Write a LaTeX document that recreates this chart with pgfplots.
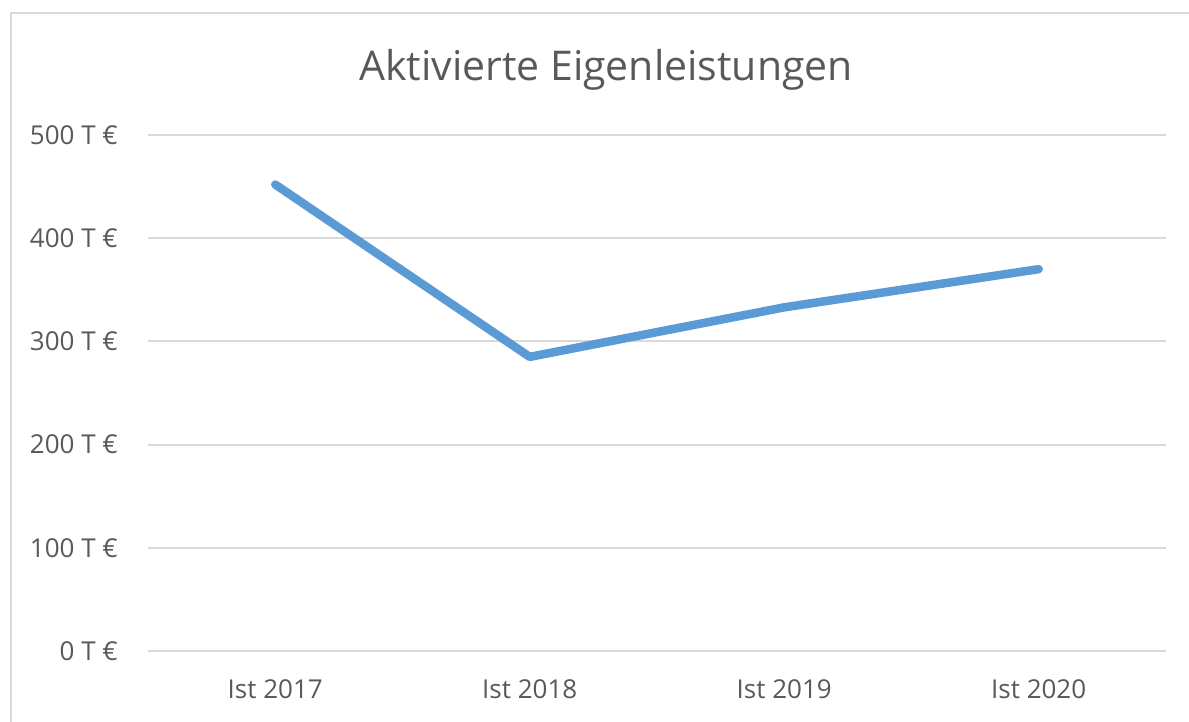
\documentclass[border=0pt]{standalone}
\usepackage{fontspec}
\setmainfont{Open Sans}
\usepackage{pgfplots}
\pgfplotsset{compat=1.18}
\definecolor{txt}{HTML}{595959}
\definecolor{grd}{HTML}{D9D9D9}
\definecolor{ln}{HTML}{5B9BD5}
\begin{document}
\begin{tikzpicture}[x=1pt,y=1pt]
\useasboundingbox (0,0) rectangle (1189,722);
% outer chart frame, cut off at right and bottom
\draw[grd, line width=2pt] (11,-20) -- (11,709) -- (1210,709);
\node[txt, font=\fontsize{41}{49}\selectfont] at (606,652) {Aktivierte Eigenleistungen};
\begin{axis}[
  at={(148pt,71pt)}, anchor=south west,
  scale only axis, width=1018pt, height=516pt,
  xmin=-0.5, xmax=3.5, ymin=0, ymax=500,
  xtick={0,1,2,3},
  xticklabels={Ist 2017,Ist 2018,Ist 2019,Ist 2020},
  ytick={0,100,200,300,400,500},
  yticklabels={0 T €,100 T €,200 T €,300 T €,400 T €,500 T €},
  axis line style={draw=none},
  major tick length=0pt,
  ymajorgrids,
  grid style={grd, line width=2pt},
  ticklabel style={txt, font=\fontsize{26}{32}\selectfont, inner sep=0pt},
  yticklabel style={anchor=east, xshift=-30pt},
  xticklabel style={anchor=north, yshift=-28pt},
]
\addplot[ln, line width=8.5pt, line cap=round, line join=round]
  coordinates {(0,452) (1,285) (2,333) (3,370)};
\end{axis}
\end{tikzpicture}
\end{document}
